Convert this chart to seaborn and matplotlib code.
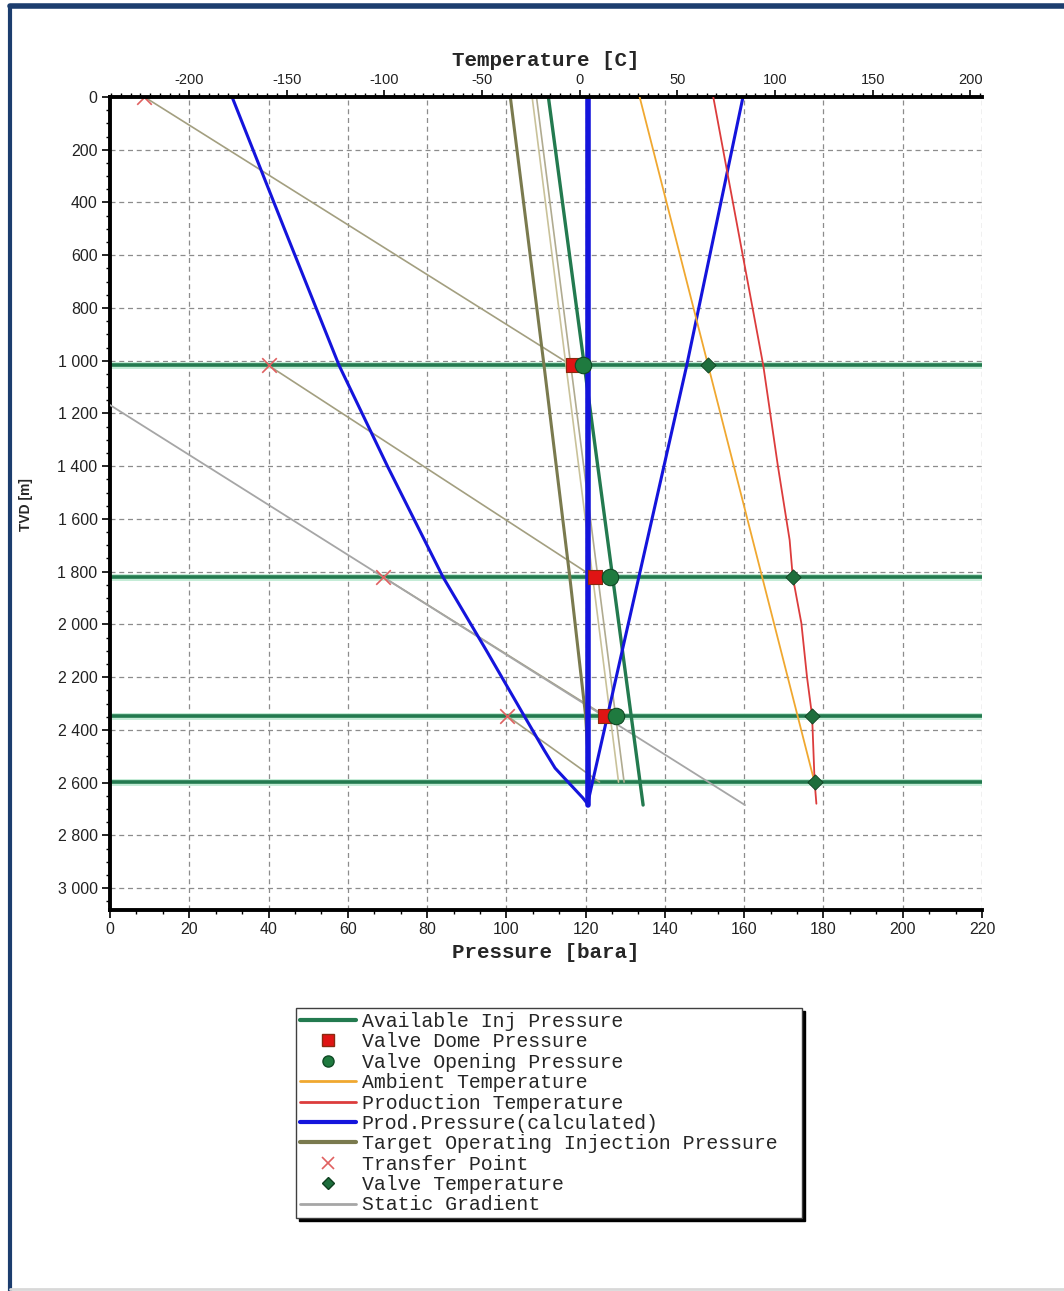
import numpy as np
import pandas as pd
import matplotlib
matplotlib.use('Agg')
import matplotlib.pyplot as plt
import seaborn as sns
from matplotlib.lines import Line2D
from matplotlib.ticker import MultipleLocator, FuncFormatter
from matplotlib.font_manager import FontProperties

# ---- data ----
valve_depth = [1018, 1820, 2347, 2598]

inj_pressure = [110.6, 134.5]          # Available Inj Pressure
inj_depth = [0, 2685]

dome_pressure = [116.8, 122.3, 124.9]  # Valve Dome Pressure
opening_pressure = [119.3, 126.1, 127.6]

ambient_temp = [30.7, 120.3]
ambient_depth = [0, 2600]

prod_temp = [68.4, 94.0, 101.5, 107.5, 109.1, 113.5, 116.4, 119.0, 120.3, 121.2]
prod_temp_depth = [0, 1018, 1400, 1680, 1820, 1995, 2200, 2347, 2598, 2680]

prod_p_left = [30.8, 44.0, 57.8, 70.0, 84.0, 95.0, 104.5, 109.5, 112.3, 119.3, 120.3]
prod_p_left_depth = [0, 500, 1018, 1400, 1820, 2100, 2347, 2476, 2545, 2658, 2677]
prod_p_vert = [120.6, 120.6]
prod_p_vert_depth = [0, 2685]
prod_p_right = [120.5, 145.5, 159.7]
prod_p_right_depth = [2680, 1018, 0]

target_pressure = [101.0, 109.5, 116.0, 120.0, 121.0]
target_depth = [0, 1018, 1820, 2347, 2598]

transfer_pressure = [8.7, 40.0, 68.9, 100.2]
transfer_depth = [0, 1018, 1820, 2347]
transfer_end_pressure = [116.5, 122.0, 124.9, 123.5]
transfer_end_depth = [1018, 1820, 2347, 2598]

valve_temp = [65.5, 109.1, 119.0, 120.3]

static_pressure = [0, 160.2]
static_depth = [1168, 2685]

casing_a = [106.5, 128.3]
casing_b = [107.6, 129.7]
casing_depth = [0, 2598]

legend_labels = ['Available Inj Pressure', 'Valve Dome Pressure', 'Valve Opening Pressure',
                 'Ambient Temperature', 'Production Temperature', 'Prod.Pressure(calculated)',
                 'Target Operating Injection Pressure', 'Transfer Point', 'Valve Temperature',
                 'Static Gradient']

# ---- colours ----
c_inj = '#237a4f'
c_dome = '#e01414'
c_open = '#1f7a3f'
c_amb = '#f0a830'
c_ptemp = '#dc3c3c'
c_blue = '#1414dc'
c_target = '#7a7a4e'
c_transfer = '#e06060'
c_vtemp = '#1e6e3c'
c_static = '#a6a6a6'
c_tan = '#a39f80'

sns.set_theme(style='white')
plt.rcParams['font.family'] = ['Liberation Sans Narrow', 'Liberation Sans', 'DejaVu Sans']
plt.rcParams['axes.unicode_minus'] = False

W, H = 1064, 1291
fig = plt.figure(figsize=(W / 100, H / 100), dpi=100)
ax = fig.add_axes([110 / W, 1 - 910 / H, 872 / W, 813 / H])


def line(a, x, y, **kw):
    sns.lineplot(x=x, y=y, ax=a, sort=False, estimator=None, legend=False, **kw)


# valve depth lines
for d in valve_depth:
    ax.axhline(d, color='#c4ecd6', lw=5, zorder=2)
    ax.axhline(d, color=c_inj, lw=2.6, zorder=2)

# gradient lines from transfer points
for p0, d0, p1, d1 in zip(transfer_pressure, transfer_depth, transfer_end_pressure, transfer_end_depth):
    line(ax, [p0, p1], [d0, d1], color=c_tan, lw=1.2, zorder=3)
line(ax, static_pressure, static_depth, color=c_static, lw=1.3, zorder=3)
line(ax, casing_a, casing_depth, color='#c9c29a', lw=1.2, zorder=3)
line(ax, casing_b, casing_depth, color='#b0ab90', lw=1.2, zorder=3)

line(ax, target_pressure, target_depth, color=c_target, lw=2.2, zorder=3)
line(ax, inj_pressure, inj_depth, color=c_inj, lw=2.4, zorder=3)
line(ax, prod_p_left, prod_p_left_depth, color=c_blue, lw=2.2, zorder=3)
line(ax, prod_p_right, prod_p_right_depth, color=c_blue, lw=2.2, zorder=3)
line(ax, prod_p_vert, prod_p_vert_depth, color=c_blue, lw=4, zorder=3)

sns.scatterplot(x=transfer_pressure, y=transfer_depth, ax=ax, marker='x', s=110,
                color=c_transfer, linewidth=1.2, zorder=5, legend=False)
sns.scatterplot(x=dome_pressure, y=valve_depth[:3], ax=ax, marker='s', s=110,
                color=c_dome, edgecolor='#8a2a10', linewidth=0.8, zorder=5, legend=False)
sns.scatterplot(x=opening_pressure, y=valve_depth[:3], ax=ax, marker='o', s=140,
                color=c_open, edgecolor='#0f4a25', linewidth=0.8, zorder=5, legend=False)

ax.set_xlim(0, 220)
ax.set_ylim(3083, 0)

# temperature axis
ax2 = ax.twiny()
ax2.patch.set_visible(False)
ax2.set_xlim(-240.5, 206)
line(ax2, ambient_temp, ambient_depth, color=c_amb, lw=1.3, zorder=3)
line(ax2, prod_temp, prod_temp_depth, color=c_ptemp, lw=1.3, zorder=3)
sns.scatterplot(x=valve_temp, y=valve_depth, ax=ax2, marker='D', s=60,
                color=c_vtemp, edgecolor='#0f3f20', linewidth=0.6, zorder=5, legend=False)
ax2.set_ylim(3083, 0)

# grid
ax.grid(True, which='major', color='#8c8c8c', linestyle=(0, (4, 3)), lw=0.9)
ax.set_axisbelow(True)
ax2.grid(False)

# spines
for s in ['left', 'bottom']:
    ax.spines[s].set_color('black')
    ax.spines[s].set_linewidth(2.8)
for s in ['top', 'right']:
    ax.spines[s].set_visible(False)
for s in ['left', 'bottom', 'right']:
    ax2.spines[s].set_visible(False)
ax2.spines['top'].set_color('black')
ax2.spines['top'].set_linewidth(2.8)

# ticks
ax.xaxis.set_major_locator(MultipleLocator(20))
ax.xaxis.set_minor_locator(MultipleLocator(20 / 3))
ax.yaxis.set_major_locator(MultipleLocator(200))
ax.yaxis.set_minor_locator(MultipleLocator(50))
ax.yaxis.set_major_formatter(FuncFormatter(lambda v, p: f'{int(v):,}'.replace(',', ' ')))
ax.tick_params(axis='both', which='major', direction='out', length=6, width=1.2,
               color='black', labelsize=11.5, labelcolor='#222222', bottom=True, left=True, pad=3)
ax.tick_params(axis='both', which='minor', direction='out', length=3, width=1.0,
               color='black', bottom=True, left=True)

ax2.set_xticks(list(range(-200, 201, 50)))
ax2.xaxis.set_minor_locator(MultipleLocator(5))
ax2.tick_params(axis='x', which='major', direction='out', length=5, width=1.2,
                color='black', labelsize=10.5, labelcolor='#222222', top=True, pad=2)
ax2.tick_params(axis='x', which='minor', direction='out', length=3, width=1.0,
                color='black', top=True)
ax2.tick_params(axis='y', left=False, right=False, labelleft=False, labelright=False)

mono_bold = dict(family=['Liberation Mono', 'DejaVu Sans Mono'], weight='bold', size=15)
ax2.set_xlabel('Temperature [C]', labelpad=5, **mono_bold)
ax.set_xlabel('Pressure [bara]', labelpad=4, **mono_bold)
ax.set_ylabel('TVD [m]', family=['Liberation Sans', 'DejaVu Sans'], weight='bold', size=10)
ax.yaxis.set_label_coords((33 - 110) / 872, 1 - (505 - 97) / 813)

# legend
handles = [
    Line2D([], [], color=c_inj, lw=3),
    Line2D([], [], color=c_dome, marker='s', ms=8, mec='#8a2a10', ls='none'),
    Line2D([], [], color=c_open, marker='o', ms=8, mec='#0f4a25', ls='none'),
    Line2D([], [], color=c_amb, lw=2),
    Line2D([], [], color=c_ptemp, lw=2),
    Line2D([], [], color=c_blue, lw=3),
    Line2D([], [], color=c_target, lw=3),
    Line2D([], [], color=c_transfer, marker='x', ms=9, mew=1.2, ls='none'),
    Line2D([], [], color=c_vtemp, marker='D', ms=6, mec='#0f3f20', ls='none'),
    Line2D([], [], color=c_static, lw=2),
]
leg = fig.legend(handles, legend_labels, loc='upper left',
                 bbox_to_anchor=(296 / W, 1 - 1218 / H, 506 / W, 210 / H), mode='expand',
                 prop=FontProperties(family=['Liberation Mono', 'DejaVu Sans Mono'], size=14.3),
                 frameon=True, fancybox=False, edgecolor='#404040',
                 shadow={'color': 'black', 'alpha': 1.0},
                 borderpad=0.2, labelspacing=0.07, handlelength=2.8, handletextpad=0.3,
                 borderaxespad=0)
leg.get_frame().set_linewidth(1.0)

# page frame
fig.add_artist(Line2D([10 / W, 10 / W], [0, 1 - 6 / H], color='#1c3d6e', lw=3, transform=fig.transFigure))
fig.add_artist(Line2D([10 / W, 1], [1 - 6 / H, 1 - 6 / H], color='#1c3d6e', lw=4, transform=fig.transFigure))
fig.add_artist(Line2D([10 / W, 1], [2 / H, 2 / H], color='#d8d8d8', lw=2, transform=fig.transFigure))

fig.savefig('out.png', dpi=100)
